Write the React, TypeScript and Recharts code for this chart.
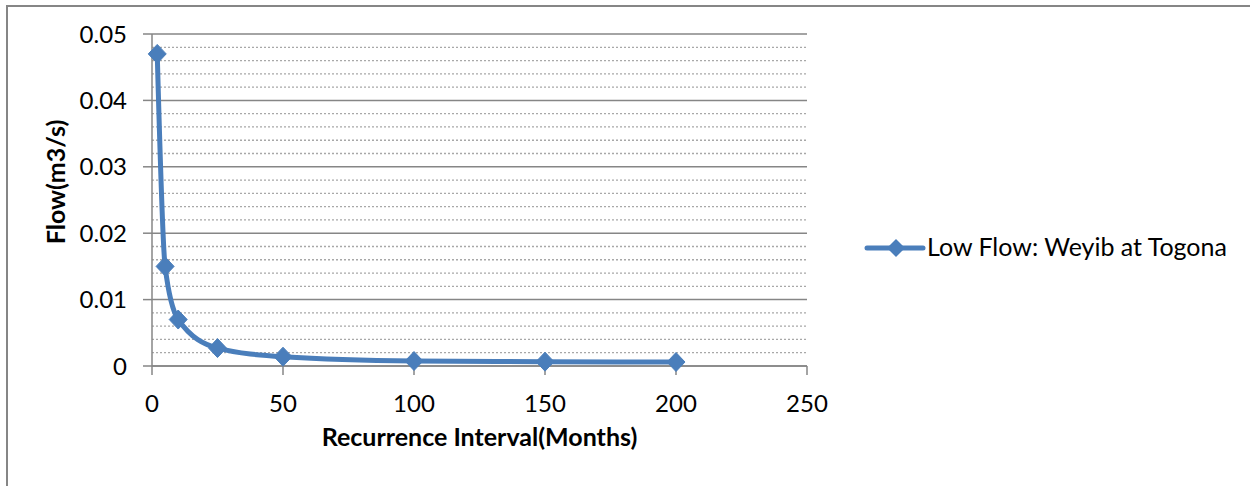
import React from 'react';
import { LineChart, Line, XAxis, YAxis, CartesianGrid, Legend, Label } from 'recharts';

// Recurrence interval (months) and low-flow discharge (m3/s)
const intervals = [2, 5, 10, 25, 50, 100, 150, 200];
const flows = [0.047, 0.015, 0.007, 0.0027, 0.0014, 0.00075, 0.00065, 0.0006];

const xTicks = [0, 50, 100, 150, 200, 250];
const yTicks = [0, 0.01, 0.02, 0.03, 0.04, 0.05];
const yMinorTicks = [0.002, 0.004, 0.006, 0.008, 0.012, 0.014, 0.016, 0.018, 0.022, 0.024, 0.026, 0.028, 0.032, 0.034, 0.036, 0.038, 0.042, 0.044, 0.046, 0.048];

const seriesName = 'Low Flow: Weyib at Togona';
const xTitle = 'Recurrence Interval(Months)';
const yTitle = 'Flow(m3/s)';

const data = intervals.map((interval, i) => ({ interval, flow: flows[i] }));

const BLUE = '#4A7EBB';
const AXIS = '#868686';
const FONT = 'Lato, "Open Sans", sans-serif';
const FS = 24;
const TITLE_FS = 25;

const Diamond = (props: any) => {
  const { cx, cy } = props;
  if (cx == null || cy == null) return null;
  const hw = 9;
  const hh = 9.5;
  return (
    <polygon
      points={`${cx},${cy - hh} ${cx + hw},${cy} ${cx},${cy + hh} ${cx - hw},${cy}`}
      fill={BLUE}
      stroke={BLUE}
      strokeWidth={1}
    />
  );
};

const renderLegend = () => (
  <svg width={380} height={36} style={{ display: 'block' }}>
    <line x1={7} y1={18} x2={63} y2={18} stroke={BLUE} strokeWidth={5} strokeLinecap="round" />
    <polygon points="36,9 45,18 36,27 27,18" fill={BLUE} />
    <text x={67} y={26} fontFamily={FONT} fontSize={TITLE_FS} fill="#000">
      {seriesName}
    </text>
  </svg>
);

const YTitle = (props: any) => {
  const { viewBox } = props;
  const cx = viewBox.x + 55;
  const cy = viewBox.y + viewBox.height / 2 - 18;
  return (
    <text
      x={cx}
      y={cy}
      transform={`rotate(-90, ${cx}, ${cy})`}
      textAnchor="middle"
      dominantBaseline="central"
      fontFamily={FONT}
      fontSize={TITLE_FS}
      fontWeight="bold"
      fill="#000"
    >
      {yTitle}
    </text>
  );
};

const XTitle = (props: any) => {
  const { viewBox } = props;
  const cx = viewBox.x + viewBox.width / 2;
  const cy = viewBox.y + 80;
  return (
    <text x={cx} y={cy} textAnchor="middle" fontFamily={FONT} fontSize={TITLE_FS} fontWeight="bold" fill="#000">
      {xTitle}
    </text>
  );
};

export default function App() {
  return (
    <div style={{ position: 'absolute', left: 0, top: 0, width: 1250, height: 486, background: '#fff', overflow: 'hidden' }}>
      <div
        style={{
          position: 'absolute',
          left: 6,
          top: 5,
          width: 1260,
          height: 500,
          borderLeft: `2px solid ${AXIS}`,
          borderTop: `2px solid ${AXIS}`,
          boxSizing: 'border-box',
        }}
      />
      <div style={{ position: 'absolute', left: 0, top: 0 }}>
        <LineChart width={1250} height={486} data={data} margin={{ top: 34, right: 443, left: 0, bottom: 0 }}>
          <CartesianGrid
            vertical={false}
            horizontalValues={yMinorTicks}
            stroke="#A8A8A8"
            strokeWidth={1.3}
            strokeDasharray="2 2"
          />
          <CartesianGrid vertical={false} horizontalValues={yTicks} stroke={AXIS} strokeWidth={1.5} />
          <XAxis
            dataKey="interval"
            type="number"
            domain={[0, 250]}
            ticks={xTicks}
            height={120}
            tickSize={9}
            tickMargin={20}
            axisLine={{ stroke: AXIS, strokeWidth: 1.5 }}
            tickLine={{ stroke: AXIS, strokeWidth: 1.5 }}
            tick={{ fill: '#000', fontFamily: FONT, fontSize: FS }}
            interval={0}
          >
            <Label content={<XTitle />} />
          </XAxis>
          <YAxis
            type="number"
            domain={[0, 0.05]}
            ticks={yTicks}
            width={152}
            tickSize={9}
            tickMargin={16}
            axisLine={{ stroke: AXIS, strokeWidth: 1.5 }}
            tickLine={{ stroke: AXIS, strokeWidth: 1.5 }}
            tick={{ fill: '#000', fontFamily: FONT, fontSize: FS }}
            interval={0}
          >
            <Label content={<YTitle />} />
          </YAxis>
          <Legend
            layout="horizontal"
            verticalAlign="middle"
            align="center"
            content={renderLegend}
            wrapperStyle={{ position: 'absolute', left: 860, top: 230, width: 380, height: 36 }}
          />
          <Line
            type="monotone"
            dataKey="flow"
            name={seriesName}
            stroke={BLUE}
            strokeWidth={5}
            strokeLinecap="round"
            strokeLinejoin="round"
            dot={<Diamond />}
            activeDot={false}
            isAnimationActive={false}
          />
        </LineChart>
      </div>
    </div>
  );
}
